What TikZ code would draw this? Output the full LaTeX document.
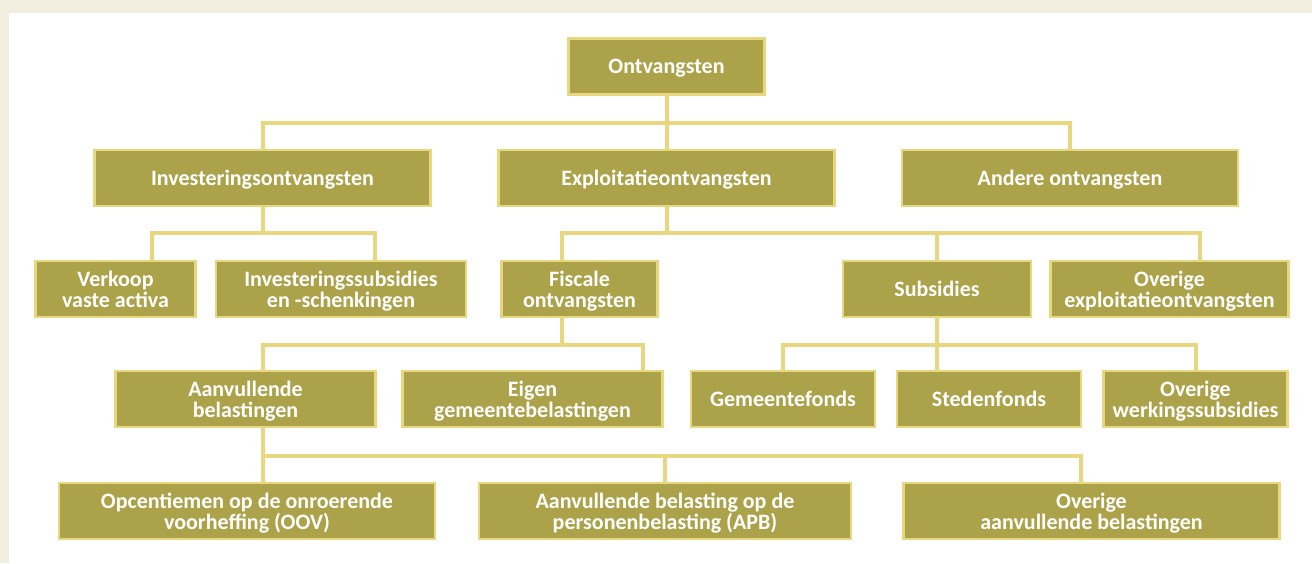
\documentclass[tikz,border=0pt]{standalone}
\usepackage{fontspec}
\setmainfont{Carlito}
\usepackage{xcolor}
\usetikzlibrary{backgrounds}

\definecolor{boxfill}{HTML}{ABA24A}
\definecolor{linegold}{HTML}{E8D77F}
\definecolor{pagebg}{HTML}{F1EEE0}

\begin{document}
\begin{tikzpicture}[
  x=0.5pt, y=-0.5pt,
  font=\fontsize{11}{10.5}\selectfont\bfseries,
  boxbase/.style={draw=linegold, line width=1.2pt, fill=boxfill,
              text=white, align=center, inner sep=0pt,
              text depth=0pt, minimum height=28pt},
  box/.style={boxbase, minimum width=#1},
  link/.style={linegold, line width=2pt},
]
% level 1 and 2
\node[box=98pt]  (root) at (666.5,66.5) {Ontvangsten};
\node[box=168pt] (inv)  at (262.5,178)  {Investeringsontvangsten};
\node[box=168pt] (expl) at (666.5,178)  {Exploitatieontvangsten};
\node[box=168pt] (andr) at (1070,178)   {Andere ontvangsten};

% level 3
\node[box=80pt]  (verk) at (115.5,289)  {Verkoop\\vaste activa};
\node[box=125pt] (invs) at (341,289)    {Investeringssubsidies\\en -schenkingen};
\node[box=78pt]  (fisc) at (579.5,289)  {Fiscale\\ontvangsten};
\node[box=94pt]  (subs) at (937,289)    {Subsidies};
\node[box=119pt] (ovex) at (1169.5,289) {Overige\\exploitatieontvangsten};

% level 4
\node[box=130pt] (aanv)  at (245.5,399)  {Aanvullende\\belastingen};
\node[box=130pt] (eigen) at (532.5,399)  {Eigen\\gemeentebelastingen};
\node[box=92pt]  (gem)   at (783,399)    {Gemeentefonds};
\node[box=92pt]  (sted)  at (989,399)    {Stedenfonds};
\node[box=92pt]  (ovws)  at (1195.5,399) {Overige\\werkingssubsidies};

% level 5
\node[box=188pt] (opc)  at (247,511)    {Opcentiemen op de onroerende\\voorheffing (OOV)};
\node[box=186pt] (apb)  at (665,511)    {Aanvullende belasting op de\\personenbelasting (APB)};
\node[box=188pt] (ovab) at (1091.5,511) {Overige\\aanvullende belastingen};

% bars and drop points
\coordinate (b1) at (0,123);
\coordinate (b2) at (0,233);
\coordinate (b3) at (0,345);
\coordinate (b4) at (0,456);
\coordinate (dverk)  at ([xshift=18.25pt]verk.north);
\coordinate (dinvs)  at ([xshift=17pt]invs.north);
\coordinate (dfisc)  at ([xshift=-8.75pt]fisc.north);
\coordinate (dovex)  at ([xshift=15.25pt]ovex.north);
\coordinate (daanv)  at ([xshift=8.75pt]aanv.north);
\coordinate (deigen) at ([xshift=55.25pt]eigen.north);
\coordinate (dsted)  at ([xshift=-26pt]sted.north);
\coordinate (dopc)   at ([xshift=8pt]opc.north);
\coordinate (dovab)  at ([xshift=-5.25pt]ovab.north);

\begin{scope}[on background layer]
\fill[pagebg] (0,0) rectangle (1312,563);
\fill[white] (9,13) rectangle (1312,563);

\draw[link] (root) -- (expl);
\draw[link] (inv) |- (andr |- b1) -- (andr);

\draw[link] (inv) -- (inv |- b2);
\draw[link] (dverk) |- (dinvs |- b2) -- (dinvs);
\draw[link] (expl) -- (expl |- b2);
\draw[link] (dfisc) |- (dovex |- b2) -- (dovex);
\draw[link] (subs) -- (subs |- b2);

\draw[link] (dfisc) -- (dfisc |- b3);
\draw[link] (daanv) |- (deigen |- b3) -- (deigen);
\draw[link] (subs) -- (dsted);
\draw[link] (gem) |- (ovws |- b3) -- (ovws);

\draw[link] (daanv) -- (daanv |- b4);
\draw[link] (dopc) |- (dovab |- b4) -- (dovab);
\draw[link] (apb) -- (apb |- b4);
\end{scope}
\end{tikzpicture}
\end{document}
